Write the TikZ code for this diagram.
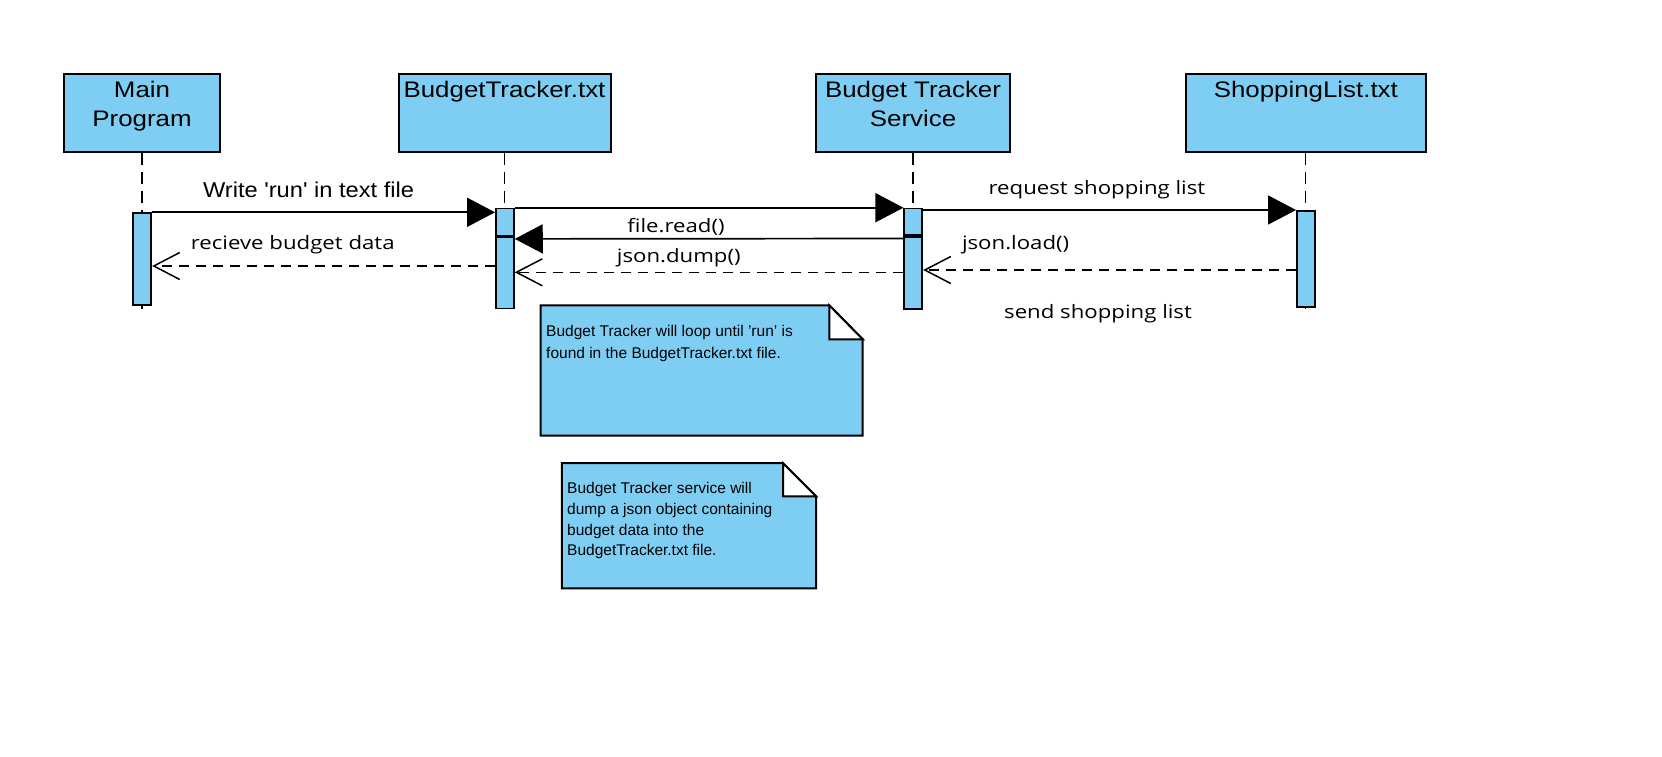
\documentclass[tikz,border=0pt]{standalone}
\usepackage{fontspec}
\setmainfont{Liberation Sans}
\newfontfamily\titlefont[FakeStretch=1.15]{Liberation Sans}
\newfontfamily\writefont[FakeStretch=1.1]{Liberation Sans}
\newfontfamily\msgfont[FakeStretch=1.2]{Open Sans}
\usetikzlibrary{arrows.meta}
\definecolor{boxblue}{RGB}{126,206,244}

\begin{document}
\begin{tikzpicture}[x=1pt,y=-1pt,
  actor/.style={draw,fill=boxblue,line width=2pt,minimum height=77.4pt,inner sep=0pt,anchor=north},
  title/.style={anchor=north,inner sep=0pt,align=center,font=\titlefont\fontsize{22.5}{28.7}\selectfont},
  bar/.style={draw,fill=boxblue,line width=1.7pt,minimum width=18pt,inner sep=0pt,anchor=north},
  life/.style={line width=1.3pt,dash pattern=on 12pt off 7pt},
  call/.style={line width=1.7pt,-{Triangle[length=28pt,width=29pt]}},
  reply/.style={line width=1.5pt,dash pattern=on 10pt off 7pt,-{Straight Barb[length=26pt,width=27pt]}},
  msg/.style={anchor=base,inner sep=0pt,font=\msgfont\fontsize{18.5}{22}\selectfont},
  note/.style={draw,fill=boxblue,line width=2pt},
  notetext/.style={anchor=north west,inner sep=0pt,align=left}]
\fill[white] (0,0) rectangle (1662,756);
\useasboundingbox (0,0) rectangle (1662,756);

\node[actor,minimum width=156pt] (main) at (142,73.3) {};
\node[actor,minimum width=212pt] (bt) at (504.5,73.3) {};
\node[actor,minimum width=194pt] (svc) at (913,73.3) {};
\node[actor,minimum width=239.6pt] (shop) at (1305.8,73.3) {};
\node[title] (mainname) at ([yshift=-8pt]main.north) {Main\\Program};
\node[title] (btname) at ([yshift=-8pt]bt.north) {BudgetTracker.txt};
\node[title] (svcname) at ([yshift=-8pt]svc.north) {Budget Tracker\\Service};
\node[title] (shopname) at ([yshift=-8pt]shop.north) {ShoppingList.txt};

\foreach \a in {main,bt,svc,shop}
  \draw[life] (\a.south) -- ++(0,156);

\node[bar,minimum height=91.7pt] (mainbar) at (142.3,212.3) {};
\node[bar,minimum height=27pt] (btA) at (504.9,207.7) {};
\node[bar,minimum height=71.3pt] (btB) at (btA.south) {};
\node[bar,minimum height=26.6pt] (svcA) at (913.3,207.7) {};
\node[bar,minimum height=72.4pt] (svcB) at (svcA.south) {};
\node[bar,minimum height=96pt] (shopbar) at (1305.9,210) {};

\draw[call] (mainbar.north east) -- (mainbar.north east -| btA.west)
  node[msg,pos=.456,yshift=15pt,font=\writefont\fontsize{21.5}{26}\selectfont] (writelbl) {Write 'run' in text file};
\draw[call] (btA.north east) -- (btA.north east -| svcA.west);
\draw[call] (svcA.north east |- shopbar.north) -- (shopbar.north west)
  node[msg,pos=.466,yshift=15.5pt] (reqlbl) {request shopping list};
\draw[call] ([yshift=-2.5pt]svcB.north west) -- ([yshift=-2.5pt]btB.north east)
  node[msg,pos=.585,yshift=6.5pt] (readlbl) {file.read()};
\draw[reply] (svcB.west |- 0,272.3) -- (btB.east |- 0,272.3)
  node[msg,pos=.578,yshift=10pt] (dumplbl) {json.dump()};
\draw[reply] (btB.west |- 0,266) -- (mainbar.east |- 0,266)
  node[msg,pos=.59,yshift=17pt] (recvlbl) {recieve budget data};
\draw[reply] (shopbar.west |- 0,270) -- (svcB.east |- 0,270)
  node[msg,pos=.752,yshift=21pt] (loadlbl) {json.load()}
  node[msg,pos=.531,yshift=-48pt] (sendlbl) {send shopping list};

\draw[note] (540.6,305.3) -- (829.3,305.3) -- (862.7,339.3) -- (862.7,435.7) -- (540.6,435.7) -- cycle;
\draw[note,fill=white] (829.3,305.3) -- (829.3,339.3) -- (862.7,339.3) -- cycle;
\node[notetext,font=\fontsize{15.5}{21.7}\selectfont] (loopnote) at (546,325)
  {Budget Tracker will loop until 'run' is\\found in the BudgetTracker.txt file.};

\draw[note] (561.8,463.2) -- (783,463.2) -- (816.2,496.4) -- (816.2,588.3) -- (561.8,588.3) -- cycle;
\draw[note,fill=white] (783,463.2) -- (783,496.4) -- (816.2,496.4) -- cycle;
\node[notetext,font=\fontsize{15.5}{20.7}\selectfont] (dumpnote) at (567,482.2)
  {Budget Tracker service will\\dump a json object containing\\budget data into the\\BudgetTracker.txt file.};
\end{tikzpicture}
\end{document}
